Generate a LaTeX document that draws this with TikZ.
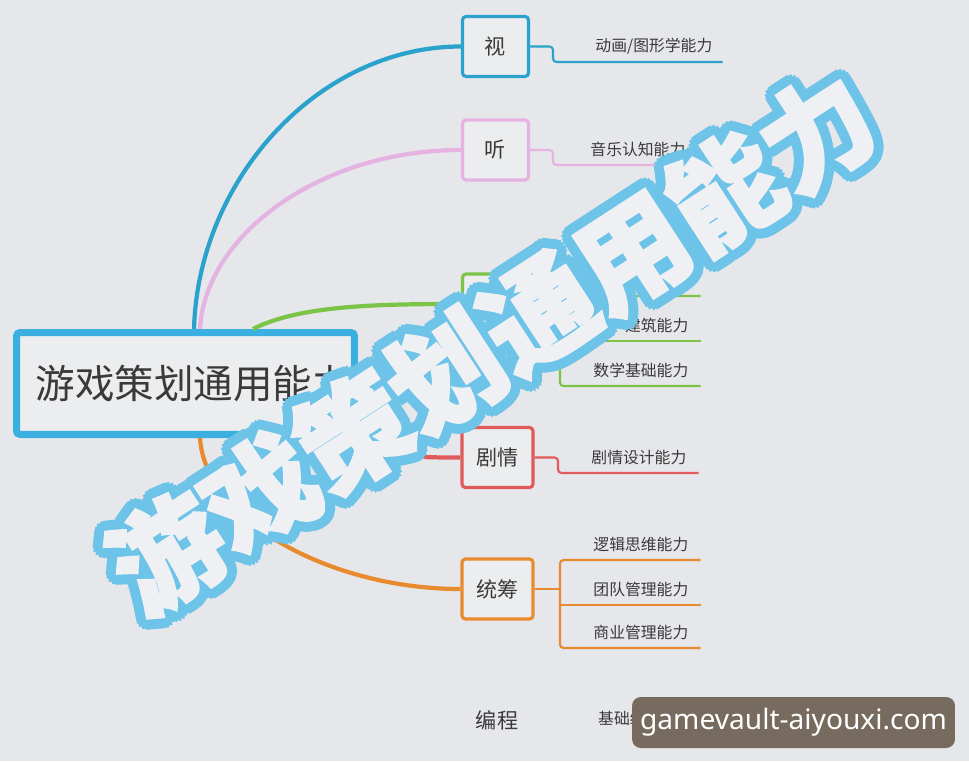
\documentclass[tikz,border=0pt]{standalone}
\usepackage{fontspec}
\newfontfamily\cjk{Noto Sans CJK SC}
\newfontfamily\cjkheavy[BoldFeatures={FakeBold=2.5}]{Noto Sans CJK SC}
\newfontfamily\badgefont{Noto Sans}
\usetikzlibrary{positioning,calc}
\definecolor{paper}{HTML}{E6E7EA}
\definecolor{boxfill}{HTML}{ECEDEF}
\definecolor{rootblue}{HTML}{3AAFE0}
\definecolor{viewblue}{HTML}{2AA2CC}
\definecolor{hearpink}{HTML}{E4B3E2}
\definecolor{spacegreen}{HTML}{7BC447}
\definecolor{plotred}{HTML}{E05A5C}
\definecolor{planorange}{HTML}{E88A2E}
\definecolor{inkgray}{HTML}{3A3A3A}
\definecolor{wmblue}{HTML}{6EC3E8}
\definecolor{wmfill}{HTML}{EEF0F3}
\definecolor{badgebg}{HTML}{766B5E}
\tikzset{
  topic/.style={draw=#1, line width=1.8pt, rounded corners=2pt, fill=boxfill,
    minimum width=1.32cm, minimum height=1.2cm, text=inkgray,
    font=\cjk\fontsize{12}{12}\selectfont},
  leaf/.style={anchor=south west, text width=2.32cm, align=right,
    inner xsep=0.24cm, inner ysep=0pt, minimum height=0.6cm, text=inkgray,
    font=\cjk\fontsize{9}{9}\selectfont},
  branch/.style={draw=#1, line width=2.4pt},
  twig/.style={draw=#1, line width=1.2pt, rounded corners=2pt},
  wmark/.style={rotate=33, inner sep=0pt,
    font=\cjkheavy\bfseries\fontsize{63}{63}\selectfont},
}

\begin{document}
\begin{tikzpicture}[x=0.02cm,y=-0.02cm]
    \fill[paper] (0,0) rectangle (969,761);
    \useasboundingbox (0,0) rectangle (969,761);

    % central topic and main branches
    \node[draw=rootblue, line width=4pt, fill=boxfill, rounded corners=2pt,
      minimum width=6.76cm, minimum height=2.04cm, inner xsep=0.37cm,
      text=inkgray, font=\cjk\fontsize{22.5}{22.5}\selectfont]
      (root) at (185.5,383.5) {\makebox[6cm][l]{游戏策划通用能力}};
    \node[topic=viewblue] (shi) at (495.5,46.5) {视};
    \node[topic=hearpink] (ting) at (495.5,150) {听};
    \node[topic=spacegreen] (kj) at (495.5,304) {};
    \node[topic=plotred, minimum width=1.42cm] (jq) at (497.5,457.5) {剧情};
    \node[topic=planorange, minimum width=1.42cm] (tc) at (497.5,589) {统筹};
    \node[text=inkgray, font=\cjk\fontsize{12}{12}\selectfont] (bc) at (497,720) {编程};

    \draw[branch=viewblue] ($(root.north west)+(181,0)$) .. controls (198,180) and (318,46.5) .. (shi.west);
    \draw[branch=hearpink] ($(root.north west)+(187,0)$) .. controls (205,235) and (320,150) .. (ting.west);
    \draw[branch=spacegreen] ($(root.north west)+(240,0)$) .. controls (300,305) and (380,304) .. (kj.west);
    \draw[branch=plotred] ($(root.south east)+(-20,0)$) .. controls (380,457.5) and (420,457.5) .. (jq.west);
    \draw[branch=planorange] ($(root.south west)+(187,0)$) .. controls (205,520) and (330,589) .. (tc.west);

    % sub topics
    \node[leaf, text width=2.98cm, inner xsep=0.2cm] (shi1) at (553,62) {动画/图形学能力};
    \node[leaf, text width=2.34cm, inner xsep=0.3cm] (ting1) at (553,165) {音乐认知能力};
    \node[leaf] (kj1) at (560,296) {};
    \node[leaf] (kj2) at (560,341) {建筑能力};
    \node[leaf] (kj3) at (560,386) {数学基础能力};
    \node[leaf] (jq1) at (558,473) {剧情设计能力};
    \node[leaf] (tc1) at (560,560) {逻辑思维能力};
    \node[leaf] (tc2) at (560,605) {团队管理能力};
    \node[leaf] (tc3) at (560,648) {商业管理能力};
    \node[anchor=west, text=inkgray, font=\cjk\fontsize{9}{9}\selectfont]
      (bc1) at (592,720) {基础编程能力（学会UE蓝图/Unity等游戏引擎）};

    \draw[twig=viewblue] (shi.east) -- (553,46.5) |- (shi1.south east);
    \draw[twig=hearpink] (ting.east) -- (553,150) |- (ting1.south east);
    \draw[twig=spacegreen] (kj.east) -- (kj.east -| kj1.south west);
    \draw[twig=spacegreen] (kj1.south east) -- (kj1.south west) |- (kj3.south east);
    \draw[twig=spacegreen] (kj2.south west) -- (kj2.south east);
    \draw[twig=plotred] (jq.east) -- (558,457.5) |- (jq1.south east);
    \draw[twig=planorange] (tc.east) -- (tc.east -| tc1.south west);
    \draw[twig=planorange] (tc1.south east) -- (tc1.south west) |- (tc3.south east);
    \draw[twig=planorange] (tc2.south west) -- (tc2.south east);

    % big title stamped over the map
    \coordinate (wmc) at (492,342);
    \foreach \r in {3.5,7,10}
      \foreach \a in {0,22.5,...,337.5}
        \node[wmark, text=wmblue] at ($(wmc)+(\a:\r)$) {游戏策划通用能力};
    \node[wmark, text=wmfill] (wm) at (wmc) {游戏策划通用能力};

    \node[fill=badgebg, rounded corners=5pt, minimum width=6.46cm,
      minimum height=1.02cm, text=white, font=\badgefont\fontsize{16}{16}\selectfont]
      (site) at (793.5,722.5) {gamevault-aiyouxi.com};
\end{tikzpicture}
\end{document}
